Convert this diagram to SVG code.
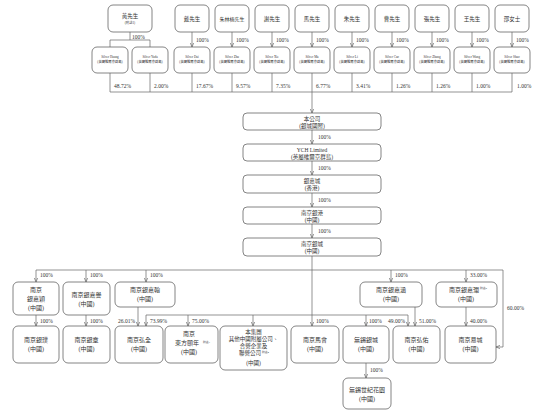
<svg xmlns="http://www.w3.org/2000/svg" width="550" height="410" viewBox="0 0 550 410">
<style>
.b{fill:#fff;stroke:#666;stroke-width:0.8}
.l{fill:none;stroke:#666;stroke-width:0.7}
.a{fill:none;stroke:#666;stroke-width:0.7;marker-end:url(#ar)}
text{font-family:"Liberation Serif","Noto Sans CJK TC",serif;fill:#333}
.t{font-size:5.5px;text-anchor:middle}
.m{font-size:6px;text-anchor:middle}
.s{font-size:3.3px;text-anchor:middle}
.p{font-size:5.5px}
.pe{font-size:5.5px;text-anchor:end}
.n{font-size:2.8px}
</style>
<defs>
<marker id="ar" viewBox="0 0 6 6" refX="6" refY="3" markerWidth="4" markerHeight="4" markerUnits="userSpaceOnUse" orient="auto">
<path d="M0,0.5 L6,3 L0,5.5" fill="none" stroke="#666" stroke-width="1"/>
</marker>
</defs>
<rect width="550" height="410" fill="#fff"/>

<g id="connectors">
<path class="l" d="M130,32V40M110,40H150M110,40V47M150,40V47"/>
<path class="a" d="M192,32V47"/><path class="a" d="M232,32V47"/><path class="a" d="M272,32V47"/>
<path class="a" d="M312,32V47"/><path class="a" d="M352,32V47"/><path class="a" d="M392,32V47"/>
<path class="a" d="M432,32V47"/><path class="a" d="M472,32V47"/><path class="a" d="M512,32V47"/>
<path class="l" d="M110,73V92M150,73V92M192,73V92M232,73V92M272,73V92M312,73V92M352,73V92M392,73V92M432,73V92M472,73V92M512,73V92M110,92H512"/>
<path class="a" d="M312,92V113"/>
<path class="a" d="M312,130V144"/><path class="a" d="M312,161V175"/><path class="a" d="M312,193V207"/><path class="a" d="M312,224V238"/>
<path class="a" d="M312,256V326"/>
<path class="l" d="M36,270H503"/>
<path class="a" d="M36,270V282"/><path class="a" d="M86,270V282"/><path class="a" d="M146,270V282"/>
<path class="a" d="M391,270V282"/><path class="a" d="M466,270V282"/>
<path class="a" d="M503,270V347H496"/>
<path class="a" d="M36,315V326"/><path class="a" d="M86,315V326"/><path class="a" d="M138,307V326"/>
<path class="l" d="M146,315H408"/>
<path class="a" d="M146,315V326"/><path class="a" d="M188,315V326"/><path class="a" d="M253,315V326"/>
<path class="a" d="M366,315V326"/><path class="a" d="M408,315V326"/>
<path class="a" d="M415,307V326"/><path class="a" d="M466,307V326"/>
<path class="a" d="M366,363V378"/>
</g>

<g id="labels">
<text class="p" x="132" y="38.5">100%</text>
<text class="p" x="196" y="42">100%</text><text class="p" x="236" y="42">100%</text><text class="p" x="276" y="42">100%</text>
<text class="p" x="316" y="42">100%</text><text class="p" x="356" y="42">100%</text><text class="p" x="396" y="42">100%</text>
<text class="p" x="436" y="42">100%</text><text class="p" x="476" y="42">100%</text><text class="p" x="516" y="42">100%</text>
<text class="p" x="114" y="88">48.72%</text><text class="p" x="154" y="88">2.00%</text><text class="p" x="196" y="88">17.67%</text>
<text class="p" x="236" y="88">9.57%</text><text class="p" x="276" y="88">7.35%</text><text class="p" x="316" y="88">6.77%</text>
<text class="p" x="356" y="88">3.41%</text><text class="p" x="396" y="88">1.26%</text><text class="p" x="436" y="88">1.26%</text>
<text class="p" x="476" y="88">1.00%</text><text class="p" x="517" y="88">1.00%</text>
<text class="p" x="318" y="139">100%</text><text class="p" x="318" y="170">100%</text>
<text class="p" x="318" y="202">100%</text><text class="p" x="318" y="233">100%</text>
<text class="p" x="40" y="277">100%</text><text class="p" x="90" y="277">100%</text><text class="p" x="150" y="277">100%</text>
<text class="p" x="395" y="277">100%</text><text class="p" x="470" y="277">33.00%</text>
<text class="p" x="507" y="310">60.00%</text>
<text class="p" x="40" y="323">100%</text><text class="p" x="90" y="323">100%</text>
<text class="pe" x="135" y="323">26.01%</text><text class="p" x="150" y="323">73.99%</text>
<text class="p" x="192" y="323">75.00%</text><text class="p" x="316" y="323">100%</text>
<text class="p" x="369" y="323">100%</text><text class="pe" x="405" y="323">49.00%</text>
<text class="p" x="419" y="323">51.00%</text><text class="p" x="470" y="323">40.00%</text>
<text class="p" x="370" y="372">100%</text>
</g>

<g id="p-huang"><rect class="b" x="108" y="5" width="44" height="27" rx="5"/><text class="t" x="130" y="18">黃先生</text><text class="s" x="130" y="24">(附註1)</text></g>
<g id="p-dai"><rect class="b" x="175" y="5" width="34" height="27" rx="5"/><text class="t" x="192" y="20.5">戴先生</text></g>
<g id="p-zhulinnan"><rect class="b" x="215" y="5" width="34" height="27" rx="5"/><text class="t" x="232" y="20.5" style="font-size:5px">朱林楠先生</text></g>
<g id="p-xie"><rect class="b" x="255" y="5" width="34" height="27" rx="5"/><text class="t" x="272" y="20.5">謝先生</text></g>
<g id="p-ma"><rect class="b" x="295" y="5" width="34" height="27" rx="5"/><text class="t" x="312" y="20.5">馬先生</text></g>
<g id="p-zhu"><rect class="b" x="335" y="5" width="34" height="27" rx="5"/><text class="t" x="352" y="20.5">朱先生</text></g>
<g id="p-cao"><rect class="b" x="375" y="5" width="34" height="27" rx="5"/><text class="t" x="392" y="20.5">曹先生</text></g>
<g id="p-zhang"><rect class="b" x="415" y="5" width="34" height="27" rx="5"/><text class="t" x="432" y="20.5">張先生</text></g>
<g id="p-wang"><rect class="b" x="455" y="5" width="34" height="27" rx="5"/><text class="t" x="472" y="20.5">王先生</text></g>
<g id="p-shao"><rect class="b" x="495" y="5" width="34" height="27" rx="5"/><text class="t" x="512" y="20.5">邵女士</text></g>

<g id="bvi-huang"><rect class="b" x="92" y="47" width="36" height="26" rx="5"/><text class="s" x="110" y="58">Silver Huang</text><text class="s" x="110" y="63">(英屬維爾京群島)</text></g>
<g id="bvi-yada"><rect class="b" x="132" y="47" width="36" height="26" rx="5"/><text class="s" x="150" y="58">Silver Yada</text><text class="s" x="150" y="63">(英屬維爾京群島)</text></g>
<g id="bvi-dai"><rect class="b" x="174" y="47" width="36" height="26" rx="5"/><text class="s" x="192" y="58">Silver Dai</text><text class="s" x="192" y="63">(英屬維爾京群島)</text></g>
<g id="bvi-zhulinnan"><rect class="b" x="214" y="47" width="36" height="26" rx="5"/><text class="s" x="232" y="58">Silver Zhu</text><text class="s" x="232" y="63">(英屬維爾京群島)</text></g>
<g id="bvi-xie"><rect class="b" x="254" y="47" width="36" height="26" rx="5"/><text class="s" x="272" y="58">Silver Xie</text><text class="s" x="272" y="63">(英屬維爾京群島)</text></g>
<g id="bvi-ma"><rect class="b" x="294" y="47" width="36" height="26" rx="5"/><text class="s" x="312" y="58">Silver Ma</text><text class="s" x="312" y="63">(英屬維爾京群島)</text></g>
<g id="bvi-zhu"><rect class="b" x="334" y="47" width="36" height="26" rx="5"/><text class="s" x="352" y="58">Silver Li</text><text class="s" x="352" y="63">(英屬維爾京群島)</text></g>
<g id="bvi-cao"><rect class="b" x="374" y="47" width="36" height="26" rx="5"/><text class="s" x="392" y="58">Silver Cao</text><text class="s" x="392" y="63">(英屬維爾京群島)</text></g>
<g id="bvi-zhang"><rect class="b" x="414" y="47" width="36" height="26" rx="5"/><text class="s" x="432" y="58">Silver Zhang</text><text class="s" x="432" y="63">(英屬維爾京群島)</text></g>
<g id="bvi-wang"><rect class="b" x="454" y="47" width="36" height="26" rx="5"/><text class="s" x="472" y="58">Silver Wang</text><text class="s" x="472" y="63">(英屬維爾京群島)</text></g>
<g id="bvi-shao"><rect class="b" x="494" y="47" width="36" height="26" rx="5"/><text class="s" x="512" y="58">Silver Shao</text><text class="s" x="512" y="63">(英屬維爾京群島)</text></g>

<g id="company"><rect class="b" x="243" y="113" width="138" height="17" rx="4"/><text class="t" x="312" y="120.5">本公司</text><text class="t" x="312" y="127.5">(銀城國際)</text></g>
<g id="ych"><rect class="b" x="243" y="144" width="138" height="17" rx="4"/><text class="t" x="312" y="151.5">YCH Limited</text><text class="t" x="312" y="158.5">(英屬維爾京群島)</text></g>
<g id="yinjiacheng"><rect class="b" x="243" y="175" width="138" height="18" rx="4"/><text class="t" x="312" y="182.5">銀嘉城</text><text class="t" x="312" y="190">(香港)</text></g>
<g id="nj-yingang"><rect class="b" x="243" y="207" width="138" height="17" rx="4"/><text class="t" x="312" y="214.5">南京銀港</text><text class="t" x="312" y="221.5">(中國)</text></g>
<g id="nj-yincheng"><rect class="b" x="243" y="238" width="138" height="18" rx="4"/><text class="t" x="312" y="245.5">南京銀城</text><text class="t" x="312" y="253">(中國)</text></g>

<g id="nj-yinjiaying"><rect class="b" x="13" y="282" width="46" height="33" rx="5"/><text class="m" x="36" y="292">南京</text><text class="m" x="36" y="301">銀嘉穎</text><text class="m" x="36" y="310">(中國)</text></g>
<g id="nj-yinjiayu"><rect class="b" x="63" y="282" width="47" height="33" rx="5"/><text class="m" x="86.5" y="297">南京銀嘉譽</text><text class="m" x="86.5" y="306">(中國)</text></g>
<g id="nj-yinjiahan"><rect class="b" x="115" y="282" width="60" height="25" rx="5"/><text class="m" x="145" y="292">南京銀嘉翰</text><text class="m" x="145" y="301">(中國)</text></g>
<g id="nj-yinjiahan2"><rect class="b" x="360" y="282" width="62" height="25" rx="5"/><text class="m" x="391" y="292">南京銀嘉涵</text><text class="m" x="391" y="301">(中國)</text></g>
<g id="nj-yinjialan"><rect class="b" x="436" y="282" width="61" height="25" rx="5"/><text class="m" x="464" y="292">南京銀嘉瀾</text><text class="n" x="480" y="289">附註2</text><text class="m" x="466" y="301">(中國)</text></g>

<g id="nj-yinpu"><rect class="b" x="13" y="326" width="46" height="37" rx="5"/><text class="m" x="36" y="342">南京銀璞</text><text class="m" x="36" y="351">(中國)</text></g>
<g id="nj-yinzhang"><rect class="b" x="63" y="326" width="47" height="37" rx="5"/><text class="m" x="86.5" y="342">南京銀章</text><text class="m" x="86.5" y="351">(中國)</text></g>
<g id="nj-hongquan"><rect class="b" x="115" y="326" width="48" height="37" rx="5"/><text class="m" x="139" y="342">南京弘全</text><text class="m" x="139" y="351">(中國)</text></g>
<g id="nj-dongfang"><rect class="b" x="165" y="326" width="53" height="37" rx="5"/><text class="m" x="189" y="336">南京</text><text class="m" x="187" y="345">東方頤年</text><text class="n" x="203" y="343">附註3</text><text class="m" x="189" y="354">(中國)</text></g>
<g id="group-others"><rect class="b" x="220" y="326" width="67" height="44" rx="5"/><text class="t" x="253.5" y="334">本集團</text><text class="t" x="253.5" y="341">其他中國附屬公司、</text><text class="t" x="253.5" y="348">合營企業及</text><text class="t" x="250" y="355">聯營公司</text><text class="n" x="262" y="353">附註4</text><text class="t" x="253.5" y="365">(中國)</text></g>
<g id="nj-mahui"><rect class="b" x="291" y="326" width="48" height="37" rx="5"/><text class="m" x="315" y="342">南京馬會</text><text class="m" x="315" y="351">(中國)</text></g>
<g id="wx-yincheng"><rect class="b" x="343" y="326" width="46" height="37" rx="5"/><text class="m" x="366" y="342">無錫銀城</text><text class="m" x="366" y="351">(中國)</text></g>
<g id="nj-hongyou"><rect class="b" x="393" y="326" width="47" height="37" rx="5"/><text class="m" x="416.5" y="342">南京弘佑</text><text class="m" x="416.5" y="351">(中國)</text></g>
<g id="nj-yicheng"><rect class="b" x="445" y="326" width="51" height="37" rx="5"/><text class="m" x="470.5" y="342">南京易城</text><text class="m" x="470.5" y="351">(中國)</text></g>
<g id="wx-shiji"><rect class="b" x="343" y="378" width="48" height="31" rx="5"/><text class="m" x="367" y="392">無錫世紀花園</text><text class="m" x="367" y="401">(中國)</text></g>
</svg>
